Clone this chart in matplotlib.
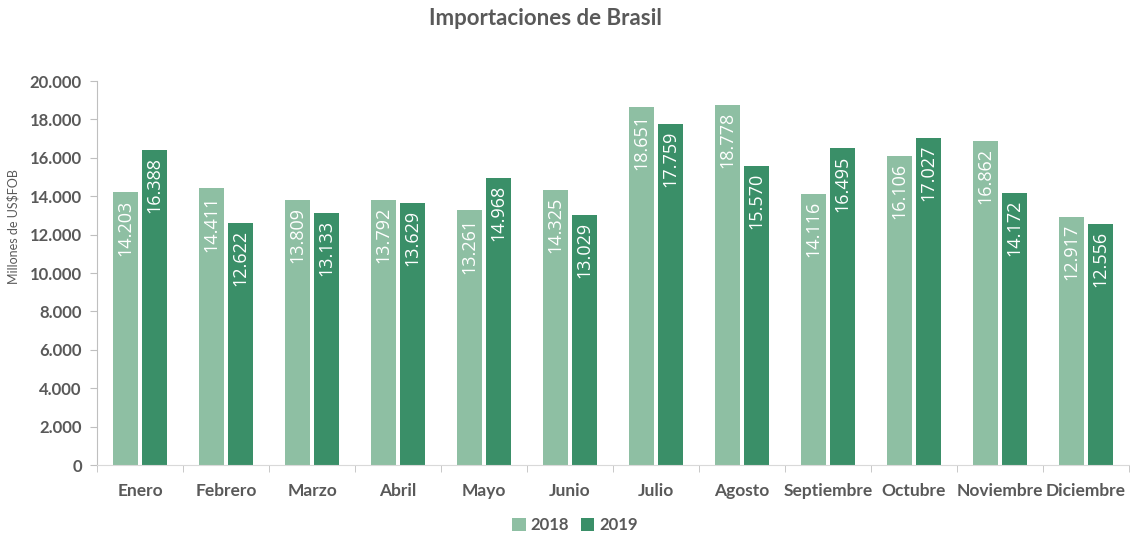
import numpy as np
import matplotlib.pyplot as plt
from matplotlib.ticker import FuncFormatter, FixedLocator

meses = ["Enero", "Febrero", "Marzo", "Abril", "Mayo", "Junio", "Julio",
         "Agosto", "Septiembre", "Octubre", "Noviembre", "Diciembre"]
imp_2018 = [14203, 14411, 13809, 13792, 13261, 14325, 18651, 18778, 14116, 16106, 16862, 12917]
imp_2019 = [16388, 12622, 13133, 13629, 14968, 13029, 17759, 15570, 16495, 17027, 14172, 12556]

COLOR_2018 = "#8ebfa3"
COLOR_2019 = "#3a8f68"
GRIS = "#595959"


def fmt_miles(v):
    return f"{int(round(v)):,}".replace(",", ".")


plt.rcParams['font.family'] = ['Lato', 'DejaVu Sans']
fig = plt.figure(figsize=(11.3, 5.37), dpi=100)
ax = fig.add_axes([0.086, 0.134, 0.913, 0.715])

x = np.arange(len(meses))
w = 0.29
gap = 0.025
b1 = ax.bar(x - w / 2 - gap, imp_2018, w, color=COLOR_2018, label="2018")
b2 = ax.bar(x + w / 2 + gap, imp_2019, w, color=COLOR_2019, label="2019")

# etiquetas verticales dentro de cada barra
for bars in (b1, b2):
    for rect in bars:
        h = rect.get_height()
        ax.annotate(fmt_miles(h), (rect.get_x() + rect.get_width() / 2, h),
                    xytext=(0, -5), textcoords="offset points",
                    rotation=90, ha="center", va="top", color="white",
                    fontsize=13, family=["Open Sans", "DejaVu Sans"])

ax.set_xlim(-0.5, len(meses) - 0.5)
ax.set_ylim(0, 20000)
ax.set_yticks(np.arange(0, 20001, 2000))
ax.yaxis.set_major_formatter(FuncFormatter(lambda v, p: fmt_miles(v)))
ax.set_xticks(x)
ax.set_xticklabels(meses)
ax.xaxis.set_minor_locator(FixedLocator(np.arange(-0.5, len(meses), 1.0)))
ax.tick_params(axis="x", which="major", length=0, pad=13, labelsize=12.5, labelcolor=GRIS)
ax.tick_params(axis="x", which="minor", length=5, color="#bfbfbf")
ax.tick_params(axis="y", length=5, color="#bfbfbf", labelsize=12, labelcolor=GRIS, pad=6)
for lbl in ax.get_xticklabels() + ax.get_yticklabels():
    lbl.set_fontweight("bold")

for s in ("top", "right"):
    ax.spines[s].set_visible(False)
ax.spines["left"].set_color("#bfbfbf")
ax.spines["bottom"].set_color("#d9d9d9")

ax.set_ylabel("Millones de US$FOB", fontsize=9, color=GRIS)
ax.yaxis.set_label_coords(-0.075, 0.62)

fig.suptitle("Importaciones de Brasil", x=0.483, y=0.985, fontsize=16,
             fontweight="bold", color=GRIS)

leg = fig.legend(handles=[b1, b2], labels=["2018", "2019"], loc="center",
                 bbox_to_anchor=(0.509, 0.022), ncol=2, frameon=False,
                 handlelength=0.8, handleheight=0.8, handletextpad=0.3,
                 columnspacing=0.7, prop={"weight": "bold", "size": 12})
for t in leg.get_texts():
    t.set_color(GRIS)

fig.savefig("out.png", dpi=100)
